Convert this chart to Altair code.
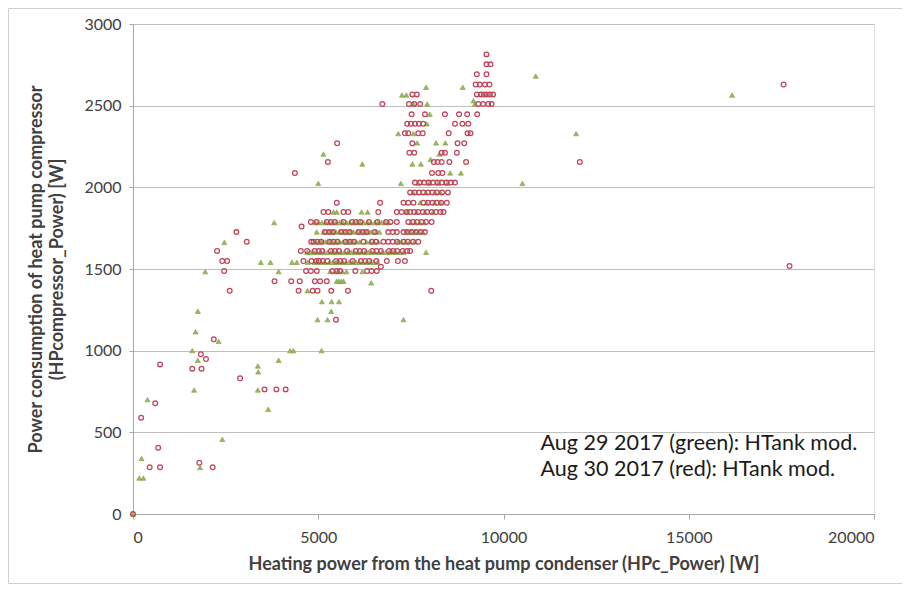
import altair as alt
import pandas as pd

# ---- Aug 29 2017 (green triangles): rows of equal compressor power [W] ----
green_row_y = [0, 220, 284, 340, 457, 641, 700, 759, 870, 906, 941, 1000, 1057, 1116,
               1190, 1241, 1300, 1367, 1415, 1425, 1484, 1541, 1602, 1663, 1666, 1727,
               1784, 1849, 1906, 1969, 2024, 2088, 2143, 2171, 2204, 2272, 2329, 2389,
               2447, 2510, 2530, 2565, 2613, 2681]
green_row_x = [
    [0],
    [170, 280],
    [1810],
    [230],
    [2410],
    [3650],
    [390],
    [1650, 3370],
    [3380],
    [3370],
    [1750, 3930],
    [1600, 4240, 4330, 5090],
    [2310],
    [1690],
    [4980, 5250, 7300],
    [1750, 5350],
    [5100, 5360, 5560],
    [4710],
    [6430],
    [5500, 5560, 5630, 5680],
    [1950, 3930, 5320, 5450, 5530, 5650, 5760, 6190],
    [3450, 3710, 4290, 4420, 4720, 4900, 4990, 5080, 5170, 5300, 5390, 5480, 5570,
     5660, 5750, 5840, 5930, 6020, 6110, 6200, 6300, 6400, 6500, 6600],
    [4700, 4790, 4880, 4970, 5060, 5150, 5250, 5340, 5430, 5520, 5610, 5700, 5800,
     5890, 5980, 6070, 6160, 6260, 6350, 6440, 6530, 6630, 6720, 6820, 6920, 7010,
     7100, 7200, 7300, 7910],
    [2465],
    [4920, 5010, 5100, 5190, 5290, 5380, 5470, 5560, 5660, 5750, 5840, 5940, 6030,
     6120, 6300, 6400, 6500, 6620, 7150, 7250, 7360, 7470, 7600],
    [4960, 5140, 5300, 5390, 5480, 5570, 5670, 5760, 5860, 5950, 6050, 6140, 6240,
     6330, 6430, 6560, 6650, 7400, 7500, 7610, 7720, 7820],
    [3810, 4920, 5010, 5100, 5200, 5290, 5380, 5480, 5570, 5660, 5760, 5850, 5950,
     6040, 6140, 6230, 6330, 6420, 6520, 6610, 6710, 6810, 6900, 7500, 7620, 7740, 7860],
    [5410, 5500, 6170, 6330, 7390, 7650, 7880, 8100],
    [7750, 7920, 8140, 8300],
    [7560, 7900, 8150, 8290],
    [5000, 7230, 7700, 7990, 8230, 8480, 10510],
    [8560, 8850],
    [6190, 7540, 7770],
    [8030],
    [5140, 8270],
    [7670, 8180, 8430],
    [7160, 7570, 11960],
    [7930],
    [8010],
    [7570, 7940, 9230],
    [9190],
    [7260, 7380, 16170],
    [7910, 8900],
    [10870],
]

# ---- Aug 30 2017 (red circles) ----
red_row_y = [0, 286, 314, 406, 590, 678, 763, 831, 890, 916, 949, 978, 1070, 1190,
             1367, 1425, 1488, 1514, 1518, 1549, 1610, 1667, 1726, 1760, 1788, 1849,
             1906, 1969, 2029, 2088, 2155, 2212, 2270, 2331, 2389, 2447, 2510, 2569,
             2630, 2692, 2753, 2814]
red_row_x = [
    [0],
    [450, 730, 2150],
    [1790],
    [680],
    [220],
    [600],
    [3550, 3870, 4120],
    [2890],
    [1600, 1850],
    [730],
    [1970],
    [1830],
    [2180],
    [5480],
    [2610, 4470, 4850, 4980, 5350, 5800, 8050],
    [3820, 4270, 4500, 4910, 5050, 5230],
    [2460, 4670, 4800, 4960, 5380, 5500, 5590, 6000, 6320, 6440, 6580],
    [6690],
    [17720],
    [2410, 2540, 4600, 4820, 4950, 5020, 5130, 5250, 5480, 5590, 5700, 5930, 6150,
     6270, 6380, 6570, 6850, 7150, 7340],
    [2270, 4530, 4700, 4900, 5010, 5110, 5340, 5450, 5560, 5780, 6010, 6120, 6240,
     6460, 6570, 6690, 6910, 7020, 7130, 7280, 7400, 7480],
    [3070, 4810, 4870, 4980, 5080, 5300, 5410, 5520, 5740, 5850, 5960, 6220, 6450,
     6560, 6760, 6890, 7010, 7130, 7300, 7420, 7560, 7700],
    [2790, 5180, 5290, 5400, 5620, 5730, 5850, 6090, 6200, 6310, 6530, 6890, 7010,
     7120, 7300, 7400, 7520, 7640, 7760, 7880],
    [4550],
    [4800, 4950, 5230, 5340, 5450, 5680, 5910, 6020, 6140, 6370, 6600, 6830, 6950,
     7120, 7430, 7550, 7670, 7790, 7910, 8060],
    [5140, 5270, 5680, 5810, 6620, 7120, 7250, 7390, 7480, 7590, 7700, 7820, 7940,
     8060, 8180, 8300, 8380],
    [5500, 6670, 7300, 7430, 7570, 7840, 7960, 8080, 8200, 8320, 8470],
    [7480, 7600, 7720, 7840, 7960, 8080, 8200, 8340, 8500],
    [7610, 7740, 7860, 7980, 8100, 8220, 8340, 8460, 8580, 8690],
    [4370, 8070, 8240, 8350],
    [5260, 8120, 8220, 8330, 8540, 8990, 12060],
    [7460, 7590, 8330, 8420, 8740],
    [5510, 7540, 8760, 8940],
    [7340, 7430, 7700, 7820, 8520, 9030, 9110],
    [7400, 7500, 7610, 7720, 7830, 8690, 8890, 9050],
    [7520, 7880, 8420, 8800, 9020, 9290],
    [6730, 7450, 7590, 7750, 9320, 9450, 9590, 9680],
    [7540, 7660, 9280, 9390, 9470, 9550, 9630, 9720],
    [9250, 9360, 9500, 9620, 17560],
    [9280, 9540],
    [9540, 9650],
    [9540],
]

x_ticks = [0, 5000, 10000, 15000, 20000]
y_ticks = [0, 500, 1000, 1500, 2000, 2500, 3000]

ann_text = ["Aug 29 2017 (green): HTank mod.", "Aug 30 2017 (red): HTank mod."]
ann_x = [11000, 11000]
ann_y = [392, 233]

x_title = "Heating power from the heat pump condenser (HPc_Power) [W]"
y_title = ["Power consumption of heat pump compressor", "(HPcompressor_Power) [W]"]


def rows_to_frame(row_y, row_x):
    recs = []
    for yv, xs in zip(row_y, row_x):
        for xv in xs:
            recs.append({"x": xv, "y": yv})
    return pd.DataFrame(recs)


green_df = rows_to_frame(green_row_y, green_row_x)
red_df = rows_to_frame(red_row_y, red_row_x)
ann_df = pd.DataFrame({"x": ann_x, "y": ann_y, "t": ann_text})

FONT = "Lato"

x_enc = alt.X("x:Q",
              scale=alt.Scale(domain=[0, 20000], nice=False),
              axis=alt.Axis(values=x_ticks, title=x_title, grid=False, format="d",
                            labelFontSize=16, labelColor="#404040", labelPadding=10,
                            tickSize=5, tickColor="#a6a6a6", domainColor="#a6a6a6",
                            titleFontSize=18, titleFontWeight="bold", titleColor="#404040",
                            titlePadding=10, labelFont=FONT, titleFont=FONT))
y_enc = alt.Y("y:Q",
              scale=alt.Scale(domain=[0, 3000], nice=False),
              axis=alt.Axis(values=y_ticks, title=y_title, grid=True, format="d",
                            gridColor="#bfbfbf", gridWidth=1.2,
                            labelFontSize=16, labelColor="#404040", labelPadding=8,
                            tickSize=4, tickColor="#a6a6a6", domainColor="#a6a6a6",
                            titleFontSize=18, titleFontWeight="bold", titleColor="#404040",
                            titlePadding=17, titleLineHeight=21,
                            labelFont=FONT, titleFont=FONT))

border = alt.Chart(pd.DataFrame({"k": [0]})).mark_rect(
    filled=False, stroke="#d0d0d0", strokeWidth=1
).encode(x=alt.value(-124.5), x2=alt.value(769.5), y=alt.value(-15.5), y2=alt.value(559.5))

green = alt.Chart(green_df).mark_point(
    shape="triangle-up", filled=True, size=26, fill="#9bbb59", stroke="#7f9a45",
    strokeWidth=0.6, opacity=1
).encode(x=x_enc, y=y_enc)

red = alt.Chart(red_df).mark_point(
    shape="circle", filled=False, size=22, stroke="#c0455a", strokeWidth=1.3, opacity=1
).encode(x="x:Q", y="y:Q")

ann = alt.Chart(ann_df).mark_text(
    align="left", baseline="alphabetic", fontSize=21.5, font=FONT, color="#1a1a1a"
).encode(x="x:Q", y="y:Q", text="t:N")

chart = alt.layer(border, green, red, ann).properties(
    width=741, height=490,
    autosize=alt.AutoSizeParams(type="none"),
    padding={"left": 125, "top": 16, "right": 28, "bottom": 70},
).configure_view(stroke=None).configure(background="white")

chart.save("out.html", embed_options={"renderer": "svg", "actions": False})
